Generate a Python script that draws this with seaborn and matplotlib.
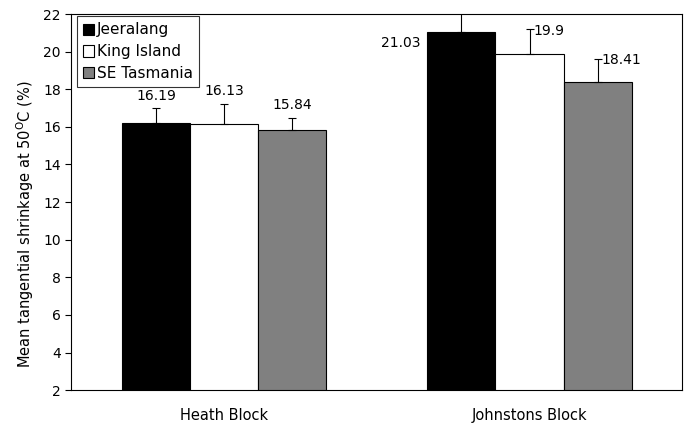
import matplotlib
matplotlib.use("Agg")
import matplotlib.pyplot as plt
import pandas as pd
import seaborn as sns

sns.set_style("ticks", {"axes.edgecolor": "black", "text.color": "black",
                        "axes.labelcolor": "black", "xtick.color": "black",
                        "ytick.color": "black"})
plt.rcParams["font.family"] = ["DejaVu Sans"]

blocks = ["Heath Block", "Johnstons Block"]
provenances = ["Jeeralang", "King Island", "SE Tasmania"]
heath_means = [16.19, 16.13, 15.84]
johnstons_means = [21.03, 19.9, 18.41]
heath_err = [0.79, 1.10, 0.65]
johnstons_err = [1.0, 1.28, 1.2]
colors = ["#000000", "#ffffff", "#808080"]

df = pd.DataFrame({
    "block": [blocks[0]] * 3 + [blocks[1]] * 3,
    "provenance": provenances * 2,
    "mean": heath_means + johnstons_means,
    "err": heath_err + johnstons_err,
})

fig, ax = plt.subplots(figsize=(6.85, 4.25), dpi=100)
sns.barplot(data=df, x="block", y="mean", hue="provenance", order=blocks,
            hue_order=provenances, palette=colors, width=0.668, gap=0,
            edgecolor="black", linewidth=0.8, errorbar=None, ax=ax)

# one-sided error bars + value labels, taken from the drawn bars
patches = [p for p in ax.patches if p.get_height() > 0][:6]
for i, prov in enumerate(provenances):
    for j, blk in enumerate(blocks):
        p = patches[i * 2 + j]
        row = df[(df.block == blk) & (df.provenance == prov)].iloc[0]
        xc = p.get_x() + p.get_width() / 2
        ax.errorbar(xc, row["mean"], yerr=[[0], [row["err"]]], fmt="none",
                    ecolor="black", elinewidth=0.8, capsize=3, capthick=0.8,
                    clip_on=True)
        label = f"{row['mean']:g}"
        if blk == blocks[0]:
            ax.annotate(label, (xc, row["mean"] + row["err"]), xytext=(0, 4),
                        textcoords="offset points", ha="center", va="bottom",
                        fontsize=10, color="black")
        elif prov == "Jeeralang":
            ax.annotate(label, (p.get_x(), row["mean"]), xytext=(-5, -2.5),
                        textcoords="offset points", ha="right", va="top",
                        fontsize=10, color="black")
        else:
            ax.annotate(label, (xc, row["mean"] + row["err"]), xytext=(2.5, -1),
                        textcoords="offset points", ha="left", va="center",
                        fontsize=10, color="black")

ax.set_ylim(2, 22)
ax.set_yticks(range(2, 23, 2))
ax.set_xlim(-0.5, 1.5)
ax.set_xlabel("")
ax.set_ylabel("Mean tangential shrinkage at 50$^{\\mathregular{O}}$C (%)",
              fontsize=10.5)
ax.yaxis.set_label_coords(-0.057, 0.44)
ax.tick_params(axis="x", length=0, pad=13, labelsize=10.5)
ax.tick_params(axis="y", labelsize=10, length=4, width=0.8)
for s in ax.spines.values():
    s.set_linewidth(0.8)

leg = ax.legend(loc="upper left", bbox_to_anchor=(0.005, 1.0), fontsize=11,
                frameon=True, fancybox=False, edgecolor="black",
                handlelength=0.75, handleheight=0.75, handletextpad=0.2,
                labelspacing=0.45, borderpad=0.4, borderaxespad=0.15)
leg.get_frame().set_linewidth(0.8)

fig.subplots_adjust(left=0.104, right=0.996, top=0.967, bottom=0.082)
fig.savefig("out.png", dpi=100)
plt.close(fig)
